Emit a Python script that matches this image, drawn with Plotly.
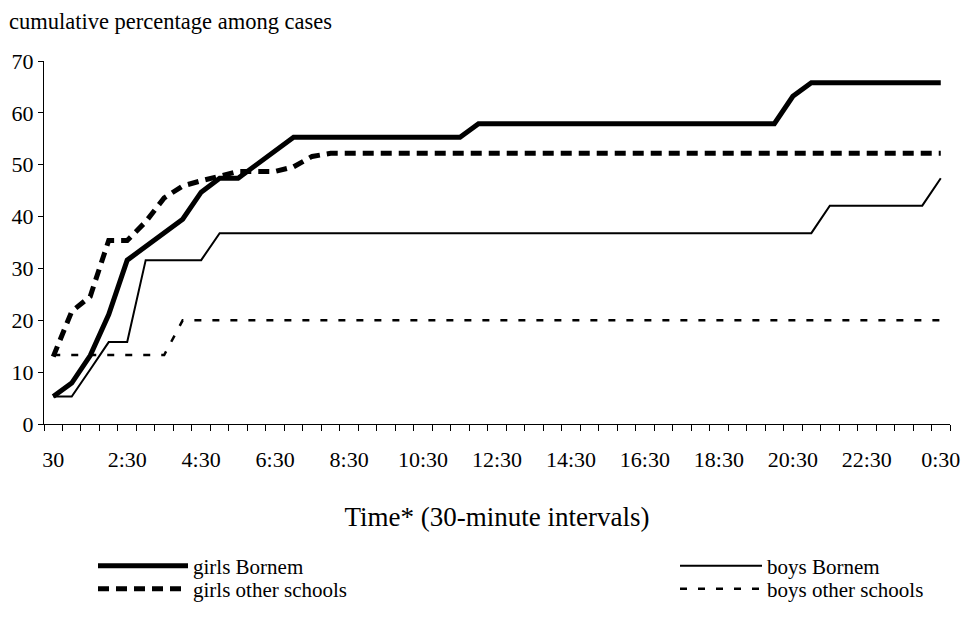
import plotly.graph_objects as go

# 30-minute interval categories (0:30 ... next day 0:30)
TIMES = ["0:30", "1:00", "1:30", "2:00", "2:30", "3:00", "3:30", "4:00", "4:30", "5:00",
         "5:30", "6:00", "6:30", "7:00", "7:30", "8:00", "8:30", "9:00", "9:30", "10:00",
         "10:30", "11:00", "11:30", "12:00", "12:30", "13:00", "13:30", "14:00", "14:30",
         "15:00", "15:30", "16:00", "16:30", "17:00", "17:30", "18:00", "18:30", "19:00",
         "19:30", "20:00", "20:30", "21:00", "21:30", "22:00", "22:30", "23:00", "23:30",
         "24:00", "24:30"]
TICK_LABELS = ["30", "2:30", "4:30", "6:30", "8:30", "10:30", "12:30", "14:30",
               "16:30", "18:30", "20:30", "22:30", "0:30"]

girls_bornem = [5.3, 7.9, 13.2, 21.1, 31.6, 34.2, 36.8, 39.5, 44.7, 47.4,
                47.4, 50.0, 52.6, 55.3, 55.3, 55.3, 55.3, 55.3, 55.3, 55.3,
                55.3, 55.3, 55.3, 57.9, 57.9, 57.9, 57.9, 57.9, 57.9, 57.9,
                57.9, 57.9, 57.9, 57.9, 57.9, 57.9, 57.9, 57.9, 57.9, 57.9,
                63.2, 65.8, 65.8, 65.8, 65.8, 65.8, 65.8, 65.8, 65.8]
girls_other = [13.0, 21.7, 24.6, 35.4, 35.4, 39.0, 43.6, 45.9, 46.9, 47.9,
               48.7, 48.7, 48.7, 49.6, 51.6, 52.2, 52.2, 52.2, 52.2, 52.2,
               52.2, 52.2, 52.2, 52.2, 52.2, 52.2, 52.2, 52.2, 52.2, 52.2,
               52.2, 52.2, 52.2, 52.2, 52.2, 52.2, 52.2, 52.2, 52.2, 52.2,
               52.2, 52.2, 52.2, 52.2, 52.2, 52.2, 52.2, 52.2, 52.2]
boys_bornem = [5.3, 5.3, 10.5, 15.8, 15.8, 31.6, 31.6, 31.6, 31.6, 36.8,
               36.8, 36.8, 36.8, 36.8, 36.8, 36.8, 36.8, 36.8, 36.8, 36.8,
               36.8, 36.8, 36.8, 36.8, 36.8, 36.8, 36.8, 36.8, 36.8, 36.8,
               36.8, 36.8, 36.8, 36.8, 36.8, 36.8, 36.8, 36.8, 36.8, 36.8,
               36.8, 36.8, 42.1, 42.1, 42.1, 42.1, 42.1, 42.1, 47.4]
boys_other = [13.3, 13.3, 13.3, 13.3, 13.3, 13.3, 13.3, 20.0, 20.0, 20.0,
              20.0, 20.0, 20.0, 20.0, 20.0, 20.0, 20.0, 20.0, 20.0, 20.0,
              20.0, 20.0, 20.0, 20.0, 20.0, 20.0, 20.0, 20.0, 20.0, 20.0,
              20.0, 20.0, 20.0, 20.0, 20.0, 20.0, 20.0, 20.0, 20.0, 20.0,
              20.0, 20.0, 20.0, 20.0, 20.0, 20.0, 20.0, 20.0, 20.0]
Y_TICKS = [0, 10, 20, 30, 40, 50, 60, 70]

FONT = "Liberation Serif, Times New Roman, serif"
x = list(range(len(TIMES)))
label_pos = [x[i] for i in range(0, len(TIMES), 4)]
boundaries = [i - 0.5 for i in range(len(TIMES) + 1)]

W, H = 972, 632
ML, MR, MT, MB = 36, 30, 53, 216
plot_h = H - MT - MB
plot_w = W - ML - MR


def py(real_y):
    return (H - MB - real_y) / plot_h


def px(real_x):
    return (real_x - ML) / plot_w


fig = go.Figure()
fig.add_trace(go.Scatter(x=x, y=girls_bornem, mode="lines", name="girls Bornem",
                         line=dict(color="black", width=5), legend="legend"))
fig.add_trace(go.Scatter(x=x, y=girls_other, mode="lines", name="girls other schools",
                         line=dict(color="black", width=5, dash="11px,7px"), legend="legend2"))
fig.add_trace(go.Scatter(x=x, y=boys_bornem, mode="lines", name="boys Bornem",
                         line=dict(color="black", width=2), legend="legend3"))
fig.add_trace(go.Scatter(x=x, y=boys_other, mode="lines", name="boys other schools",
                         line=dict(color="black", width=2.5, dash="7px,11px"), legend="legend4"))

leg_font = dict(family=FONT, size=21, color="black")


def leg(xr, yr, iw):
    return dict(x=px(xr), y=py(yr), xanchor="left", yanchor="middle", orientation="v",
                font=leg_font, itemwidth=iw, bgcolor="rgba(0,0,0,0)", borderwidth=0)


fig.update_layout(
    width=W, height=H,
    margin=dict(l=ML, r=MR, t=MT, b=MB, autoexpand=False),
    paper_bgcolor="white", plot_bgcolor="white",
    font=dict(family=FONT, size=22, color="black"),
    title=dict(text="cumulative percentage among cases", x=1 / W, xref="container",
               xanchor="left", y=1 - 13 / H, yref="container", yanchor="middle",
               pad=dict(l=0, t=0, b=0, r=0),
               font=dict(family=FONT, size=22.5, color="black")),
    xaxis=dict(range=[-0.5, len(TIMES) - 0.5], tickmode="array", tickvals=label_pos,
               ticktext=TICK_LABELS, ticks="", showline=True, linecolor="black",
               linewidth=1, showgrid=False, zeroline=False, ticklabelstandoff=16,
               tickfont=dict(family=FONT, size=22),
               minor=dict(tickmode="array", tickvals=boundaries, ticks="outside",
                          ticklen=6, tickcolor="black", tickwidth=1, showgrid=False),
               title=dict(text="Time* (30-minute intervals)", standoff=35,
                          font=dict(family=FONT, size=27))),
    yaxis=dict(range=[0, 70], tickmode="array", tickvals=Y_TICKS, ticks="outside",
               ticklen=5, tickcolor="black", showline=True, linecolor="black",
               linewidth=1, showgrid=False, zeroline=False, ticklabelstandoff=0,
               tickfont=dict(family=FONT, size=22)),
    legend=leg(85, 558, 90),
    legend2=leg(85, 581, 90),
    legend3=leg(667, 558, 82),
    legend4=leg(667, 581, 82),
    showlegend=True,
)

fig.write_html("out.html")
